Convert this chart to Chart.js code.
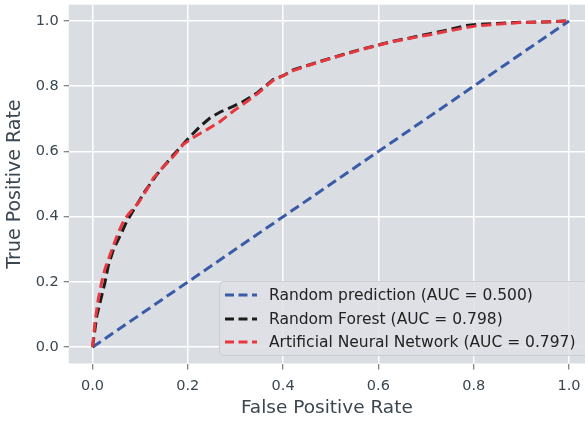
<!DOCTYPE html>
<html>
<head>
<meta charset="utf-8">
<script src="https://cdn.jsdelivr.net/npm/chart.js@4/dist/chart.umd.min.js"></script>
<style>
html,body{margin:0;padding:0;background:#fff;}
#wrap{width:585px;height:421px;position:relative;}
</style>
</head>
<body>
<div id="wrap"><canvas id="c" width="585" height="421"></canvas></div>
<script>
// ---- data ----
const seriesLabels = [
  'Random prediction (AUC = 0.500)',
  'Random Forest (AUC = 0.798)',
  'Artificial Neural Network (AUC = 0.797)'
];
const randomFPR = [0, 1];
const randomTPR = [0, 1];
const rfFPR = [0,0.009,0.026,0.033,0.044,0.061,0.072,0.089,0.110,0.135,0.170,0.205,0.226,0.247,0.268,0.295,0.316,0.345,0.379,0.400,0.421,0.456,0.491,0.526,0.561,0.596,0.631,0.666,0.708,0.750,0.785,0.806,0.848,0.897,0.946,1];
const rfTPR  = [0,0.096,0.198,0.249,0.300,0.351,0.386,0.427,0.478,0.529,0.590,0.646,0.677,0.703,0.721,0.738,0.753,0.779,0.820,0.832,0.850,0.866,0.882,0.897,0.912,0.925,0.938,0.948,0.961,0.974,0.986,0.989,0.992,0.996,0.997,1];
const annFPR = [0,0.005,0.012,0.019,0.026,0.037,0.054,0.065,0.075,0.096,0.114,0.128,0.149,0.170,0.190,0.215,0.240,0.268,0.295,0.324,0.348,0.379,0.400,0.421,0.456,0.491,0.526,0.561,0.596,0.631,0.666,0.708,0.750,0.785,0.806,0.848,0.897,0.946,1];
const annTPR = [0,0.076,0.147,0.198,0.239,0.284,0.351,0.386,0.407,0.442,0.483,0.519,0.554,0.585,0.621,0.646,0.667,0.692,0.723,0.753,0.779,0.818,0.832,0.848,0.865,0.881,0.896,0.911,0.924,0.937,0.947,0.958,0.970,0.980,0.985,0.990,0.995,0.997,1];
const xTicks = [0, 0.2, 0.4, 0.6, 0.8, 1.0];
const yTicks = [0, 0.2, 0.4, 0.6, 0.8, 1.0];
const xTitle = 'False Positive Rate';
const yTitle = 'True Positive Rate';

// ---- styling ----
const FONT = "'DejaVu Sans', sans-serif";
const TXT = '#3a4750';
const colors = ['#3a5ba8', '#1c1c1c', '#e8383f'];
const pts = (xs, ys) => xs.map((x, i) => ({x: x, y: ys[i]}));

const bgPlugin = {
  id: 'bg',
  beforeDraw(chart) {
    const {ctx, chartArea: a} = chart;
    ctx.save();
    ctx.fillStyle = '#dadde2';
    ctx.fillRect(a.left, a.top, a.right - a.left, a.bottom - a.top);
    ctx.restore();
  }
};

const legendPlugin = {
  id: 'boxLegend',
  afterDatasetsDraw(chart) {
    const ctx = chart.ctx;
    ctx.save();
    const L = 219.5, T = 281.5, R = 600, B = 355.5, r = 4;
    ctx.beginPath();
    ctx.moveTo(L + r, T); ctx.lineTo(R, T); ctx.lineTo(R, B); ctx.lineTo(L + r, B);
    ctx.arcTo(L, B, L, B - r, r); ctx.lineTo(L, T + r); ctx.arcTo(L, T, L + r, T, r);
    ctx.closePath();
    ctx.fillStyle = 'rgba(222,224,229,0.85)';
    ctx.fill();
    ctx.strokeStyle = '#c9ccd1';
    ctx.lineWidth = 1;
    ctx.stroke();
    const rows = [295, 319, 342];
    chart.data.datasets.forEach((ds, i) => {
      const y = rows[i];
      ctx.beginPath();
      ctx.setLineDash([9, 4.5]);
      ctx.strokeStyle = ds.borderColor;
      ctx.lineWidth = 3;
      ctx.moveTo(225, y); ctx.lineTo(257, y);
      ctx.stroke();
      ctx.setLineDash([]);
      ctx.fillStyle = '#222';
      ctx.font = '15.5px ' + FONT;
      ctx.textBaseline = 'middle';
      ctx.textAlign = 'left';
      ctx.fillText(ds.label, 269, y + 1);
    });
    ctx.restore();
  }
};

const mkDs = (label, data, color, order) => ({
  label, data, borderColor: color, backgroundColor: color,
  borderWidth: 3, borderDash: [10, 5], pointRadius: 0, fill: false,
  tension: 0, order
});

new Chart(document.getElementById('c'), {
  type: 'line',
  data: {
    datasets: [
      mkDs(seriesLabels[0], pts(randomFPR, randomTPR), colors[0], 3),
      mkDs(seriesLabels[1], pts(rfFPR, rfTPR), colors[1], 2),
      mkDs(seriesLabels[2], pts(annFPR, annTPR), colors[2], 1)
    ]
  },
  options: {
    responsive: false,
    animation: false,
    devicePixelRatio: 1,
    layout: {padding: {top: 4.65, right: 0, bottom: 0, left: 0}},
    plugins: {legend: {display: false}, tooltip: {enabled: false}},
    scales: {
      x: {
        type: 'linear', min: -0.05, max: 1.0336,
        afterBuildTicks: s => { s.ticks = xTicks.map(v => ({value: v})); },
        afterFit: s => { s.height = 57.5; s.paddingLeft = 0; s.paddingRight = 0; },
        grid: {color: '#ffffff', lineWidth: 1.5, tickColor: '#555f66', tickLength: 6, tickWidth: 1},
        border: {display: false},
        ticks: {color: TXT, font: {family: FONT, size: 14.5}, padding: 8,
                callback: v => v.toFixed(1), maxRotation: 0, autoSkip: false},
        title: {display: true, text: xTitle, color: TXT, font: {family: FONT, size: 18.5}, padding: {top: 2, bottom: 2}}
      },
      y: {
        type: 'linear', min: -0.05, max: 1.05,
        afterBuildTicks: s => { s.ticks = yTicks.map(v => ({value: v})); },
        afterFit: s => { s.width = 68.7; s.paddingTop = 0; s.paddingBottom = 0; },
        grid: {color: '#ffffff', lineWidth: 1.5, tickColor: '#555f66', tickLength: 5, tickWidth: 1},
        border: {display: false},
        ticks: {color: TXT, font: {family: FONT, size: 14.5}, padding: 5,
                callback: v => v.toFixed(1), autoSkip: false},
        title: {display: true, text: yTitle, color: TXT, font: {family: FONT, size: 19}, padding: {top: 4, bottom: 4}}
      }
    }
  },
  plugins: [bgPlugin, legendPlugin]
});
</script>
</body>
</html>
